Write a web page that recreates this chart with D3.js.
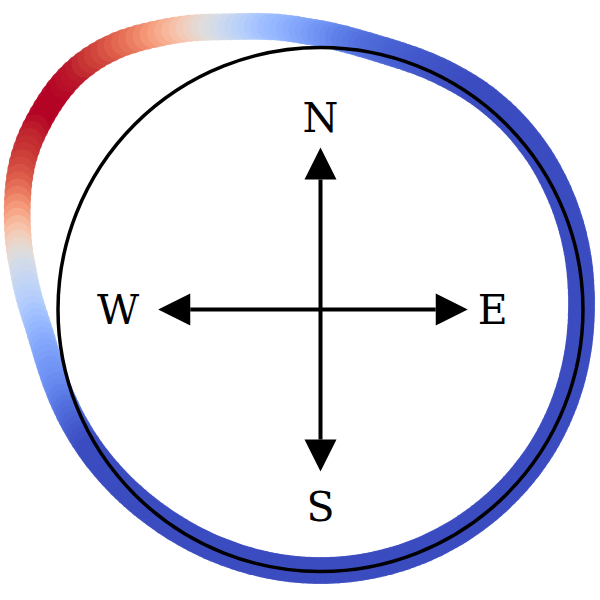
<!DOCTYPE html>
<html>
<head>
<meta charset="utf-8">
<script src="https://cdn.jsdelivr.net/npm/d3@7"></script>
<style>
  html, body { margin: 0; padding: 0; background: #fff; }
  svg { display: block; }
</style>
</head>
<body>
<svg id="chart" width="600" height="600"></svg>
<script>
// ---- data: trajectory around the compass (bearing in degrees, distance, value) ----
const bearing = [
  0,1.25,2.5,3.75,5,6.25,7.5,8.75,10,11.25,12.5,13.75,15,16.25,17.5,18.75,20,21.25,22.5,23.75,25,26.25,27.5,28.75,
  30,31.25,32.5,33.75,35,36.25,37.5,38.75,40,41.25,42.5,43.75,45,46.25,47.5,48.75,50,51.25,52.5,53.75,55,56.25,57.5,58.75,
  60,61.25,62.5,63.75,65,66.25,67.5,68.75,70,71.25,72.5,73.75,75,76.25,77.5,78.75,80,81.25,82.5,83.75,85,86.25,87.5,88.75,
  90,91.25,92.5,93.75,95,96.25,97.5,98.75,100,101.25,102.5,103.75,105,106.25,107.5,108.75,110,111.25,112.5,113.75,115,116.25,117.5,118.75,
  120,121.25,122.5,123.75,125,126.25,127.5,128.75,130,131.25,132.5,133.75,135,136.25,137.5,138.75,140,141.25,142.5,143.75,145,146.25,147.5,148.75,
  150,151.25,152.5,153.75,155,156.25,157.5,158.75,160,161.25,162.5,163.75,165,166.25,167.5,168.75,170,171.25,172.5,173.75,175,176.25,177.5,178.75,
  180,181.25,182.5,183.75,185,186.25,187.5,188.75,190,191.25,192.5,193.75,195,196.25,197.5,198.75,200,201.25,202.5,203.75,205,206.25,207.5,208.75,
  210,211.25,212.5,213.75,215,216.25,217.5,218.75,220,221.25,222.5,223.75,225,226.25,227.5,228.75,230,231.25,232.5,233.75,235,236.25,237.5,238.75,
  240,241.25,242.5,243.75,245,246.25,247.5,248.75,250,251.25,252.5,253.75,255,256.25,257.5,258.75,260,261.25,262.5,263.75,265,266.25,267.5,268.75,
  270,271.25,272.5,273.75,275,276.25,277.5,278.75,280,281.25,282.5,283.75,285,286.25,287.5,288.75,290,291.25,292.5,293.75,295,296.25,297.5,298.75,
  300,301.25,302.5,303.75,305,306.25,307.5,308.75,310,311.25,312.5,313.75,315,316.25,317.5,318.75,320,321.25,322.5,323.75,325,326.25,327.5,328.75,
  330,331.25,332.5,333.75,335,336.25,337.5,338.75,340,341.25,342.5,343.75,345,346.25,347.5,348.75,350,351.25,352.5,353.75,355,356.25,357.5,358.75
];
const distance = [
  276,274.9,273.8,272.7,271.7,270.7,269.8,269,268.3,267.7,267.2,266.8,266.5,266.3,266.2,266.2,266.2,266.3,266.4,266.5,266.6,266.7,266.8,266.9,
  267,267.2,267.4,267.6,267.8,267.9,268,268,268,268,268,268,268,267.9,267.8,267.7,267.6,267.4,267.3,267.1,267,266.8,266.5,266.3,
  266,265.8,265.5,265.3,265,264.8,264.5,264.3,264,263.8,263.5,263.3,263,262.8,262.5,262.3,262,261.8,261.5,261.3,261,260.9,260.8,260.6,
  260.5,260.4,260.4,260.3,260.3,260.3,260.3,260.3,260.3,260.3,260.4,260.4,260.4,260.5,260.5,260.5,260.6,260.6,260.7,260.7,260.8,260.8,260.9,260.9,
  261,261,261,261,261,261,261,261,261,261,261,261,261,261,261,261,261,261,261,261,261,261,261,261,
  261,261,261,261,261,261,261,261,261,261,261,261,261,261,261,261,261,261,261,261,261,261,261,261,
  261,261,261,261,261,261,261,261,261,261,261,261,261,261,261,261,261,261.1,261.2,261.3,261.4,261.5,261.6,261.7,
  261.8,262,262.1,262.3,262.5,262.7,262.9,263.1,263.4,263.7,264,264.3,264.6,265,265.3,265.7,266,266.4,266.8,267.2,267.6,268,268.4,268.8,
  269.2,269.6,270,270.4,270.8,271.2,271.6,272,272.4,272.9,273.3,273.8,274.3,274.8,275.4,276,276.7,277.5,278.4,279.4,280.6,282,283.6,285.4,
  287.3,289.3,291.3,293.3,295.3,297.3,299.3,301.5,304,306.3,308.6,310.8,313,315.2,317.4,319.6,321.8,324,326.1,328.1,330,331.8,333.3,334.6,
  335.8,336.8,337.6,338.4,339.1,339.8,340.4,340.9,341.3,341.5,341.5,341.3,340.8,340,339,337.8,336.4,334.8,333,331,328.8,326.5,324.1,321.7,
  319.3,317,314.8,312.5,310.2,307.8,305.4,303,300.7,298.5,296.5,294.7,293,291.5,290,288.6,287.2,285.8,284.3,282.8,281.2,279.7,278.3,277.1
];
const value = [
  0.18,0.165,0.15,0.135,0.12,0.11,0.10,0.09,0.08,0.072,0.065,0.06,0.055,0.05,0.045,0.04,0.035,0.032,0.03,0.025,0.02,0.018,0.015,0.012,
  0.01,0.008,0.005,0.002,0,0,0,0,0,0,0,0,0,0,0,0,0,0,0,0,0,0,0,0,
  0,0,0,0,0,0,0,0,0,0,0,0,0,0,0,0,0,0,0,0,0,0,0,0,
  0,0,0,0,0,0,0,0,0,0,0,0,0,0,0,0,0,0,0,0,0,0,0,0,
  0,0,0,0,0,0,0,0,0,0,0,0,0,0,0,0,0,0,0,0,0,0,0,0,
  0,0,0,0,0,0,0,0,0,0,0,0,0,0,0,0,0,0,0,0,0,0,0,0,
  0,0,0,0,0,0,0,0,0,0,0,0,0,0,0,0,0,0,0,0,0,0,0,0,
  0,0,0,0,0,0,0,0,0,0,0,0,0,0,0,0,0,0,0,0,0,0,0,0,
  0.01,0.02,0.03,0.042,0.055,0.068,0.08,0.095,0.11,0.125,0.14,0.152,0.165,0.175,0.185,0.198,0.21,0.225,0.24,0.255,0.27,0.29,0.31,0.33,
  0.35,0.37,0.39,0.405,0.42,0.44,0.46,0.49,0.52,0.555,0.59,0.63,0.67,0.71,0.75,0.785,0.82,0.85,0.88,0.90,0.92,0.935,0.95,0.96,
  0.97,0.98,0.99,1,1,1,1,1,1,0.995,0.99,0.985,0.98,0.965,0.95,0.935,0.92,0.90,0.88,0.86,0.84,0.815,0.79,0.76,
  0.73,0.70,0.67,0.635,0.60,0.565,0.53,0.505,0.48,0.455,0.43,0.41,0.39,0.365,0.34,0.32,0.30,0.285,0.27,0.255,0.24,0.225,0.21,0.195
];
const circleRadius = 262;
const directions = ["N", "E", "S", "W"];
const arrowLength = [162, 147, 162, 162];   // N, E, S, W
const labelOffset = [192, 172, 197, 202];   // N, E, S, W

// ---- coolwarm colormap ----
const cw = ["#3b4cc0","#445acc","#4d68d7","#5775e1","#6282ea","#6c8ef1","#779af7","#82a5fb",
  "#8db0fe","#98b9ff","#a3c2ff","#aec9fd","#b8d0f9","#c2d5f4","#ccd9ee","#d5dbe6","#dddddd",
  "#e5d8d1","#ecd3c5","#f1ccb9","#f5c4ad","#f7bba0","#f7b194","#f7a687","#f49a7b","#f18d6f",
  "#ec7f63","#e57058","#de604d","#d55042","#cb3e38","#c0282f","#b40426"];
const coolwarm = d3.scaleLinear()
  .domain(cw.map((_, i) => i / (cw.length - 1)))
  .range(cw)
  .interpolate(d3.interpolateRgb)
  .clamp(true);

// ---- scales ----
const x = d3.scaleLinear().domain([-circleRadius, circleRadius]).range([58, 583]);
const y = d3.scaleLinear().domain([-circleRadius, circleRadius]).range([571.5, 47.5]);

const svg = d3.select("#chart");

const n = Math.min(bearing.length, distance.length, value.length);
const pts = d3.range(n).map(i => {
  const a = bearing[i] * Math.PI / 180;
  return { e: distance[i] * Math.sin(a), n: distance[i] * Math.cos(a), v: value[i] };
}).sort((p, q) => q.v - p.v);

svg.append("g")
  .selectAll("circle")
  .data(pts)
  .join("circle")
  .attr("cx", d => x(d.e))
  .attr("cy", d => y(d.n))
  .attr("r", 13.5)
  .attr("fill", d => coolwarm(d.v))
  .attr("fill-opacity", 0.95);

// compass circle
svg.append("ellipse")
  .attr("cx", x(0)).attr("cy", y(0))
  .attr("rx", x(circleRadius) - x(0))
  .attr("ry", y(0) - y(circleRadius))
  .attr("fill", "none")
  .attr("stroke", "#000")
  .attr("stroke-width", 3.5);

// arrows
const head = 32, halfW = 16;
const dirVec = { N: [0, 1], E: [1, 0], S: [0, -1], W: [-1, 0] };
const g = svg.append("g");
directions.forEach((d, i) => {
  const [ux, uy] = dirVec[d];
  const L = arrowLength[i];
  const base = L - head;
  g.append("line")
    .attr("x1", x(0)).attr("y1", y(0))
    .attr("x2", x(ux * base)).attr("y2", y(uy * base))
    .attr("stroke", "#000").attr("stroke-width", 4);
  const px = -uy, py = ux;
  const poly = [
    [ux * L, uy * L],
    [ux * base + px * halfW, uy * base + py * halfW],
    [ux * base - px * halfW, uy * base - py * halfW]
  ];
  g.append("path")
    .attr("d", "M" + poly.map(p => x(p[0]) + "," + y(p[1])).join("L") + "Z")
    .attr("fill", "#000");
  const off = labelOffset[i];
  g.append("text")
    .attr("x", x(ux * off))
    .attr("y", y(uy * off))
    .attr("dy", "0.36em")
    .attr("text-anchor", "middle")
    .attr("font-family", "DejaVu Serif, serif")
    .attr("font-size", 41)
    .attr("fill", "#000")
    .text(d);
});
</script>
</body>
</html>
